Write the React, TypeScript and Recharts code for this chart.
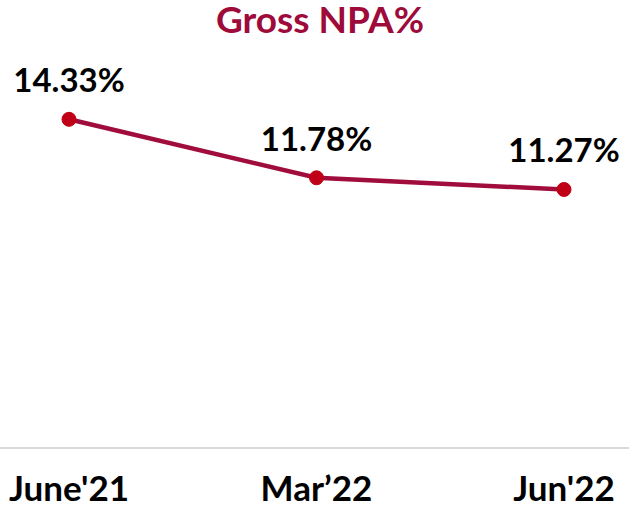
import { LineChart, Line, XAxis, YAxis, LabelList } from "recharts";

const periods = ["June'21", "Mar’22", "Jun'22"];
const grossNpa = [14.33, 11.78, 11.27];

const chartData = periods.map((p, i) => ({ period: p, value: grossNpa[i] }));

const FONT = "Lato, 'Open Sans', sans-serif";

export default function App() {
  return (
    <div style={{ width: 629, height: 515, position: "absolute", left: 0, top: 0, fontFamily: FONT, background: "#fff" }}>
      <svg width={629} height={46} style={{ position: "absolute", left: 0, top: 0 }}>
        <text x={320} y={33} textAnchor="middle" fontSize={37} fontWeight={700} fill="#9E0B3B" fontFamily={FONT}>
          Gross NPA%
        </text>
      </svg>
      <LineChart width={629} height={515} data={chartData} margin={{ top: 81, right: 0, bottom: 37, left: 0 }}>
        <XAxis
          dataKey="period"
          padding={{ left: 69, right: 65 }}
          tickLine={false}
          axisLine={{ stroke: "#d9d9d9", strokeWidth: 2 }}
          tick={{ fill: "#000", fontSize: 35, fontWeight: 700, fontFamily: FONT }}
          tickMargin={22}
          interval={0}
        />
        <YAxis hide domain={[0, 16]} />
        <Line
          dataKey="value"
          stroke="#A00D3C"
          strokeWidth={4.5}
          dot={{ r: 7, fill: "#C00016", stroke: "#C00016", strokeWidth: 1 }}
          isAnimationActive={false}
        >
          <LabelList
            dataKey="value"
            position="top"
            offset={27}
            formatter={(v: number) => `${v.toFixed(2)}%`}
            style={{ fill: "#000", fontSize: 33, fontWeight: 700, fontFamily: FONT }}
          />
        </Line>
      </LineChart>
    </div>
  );
}
